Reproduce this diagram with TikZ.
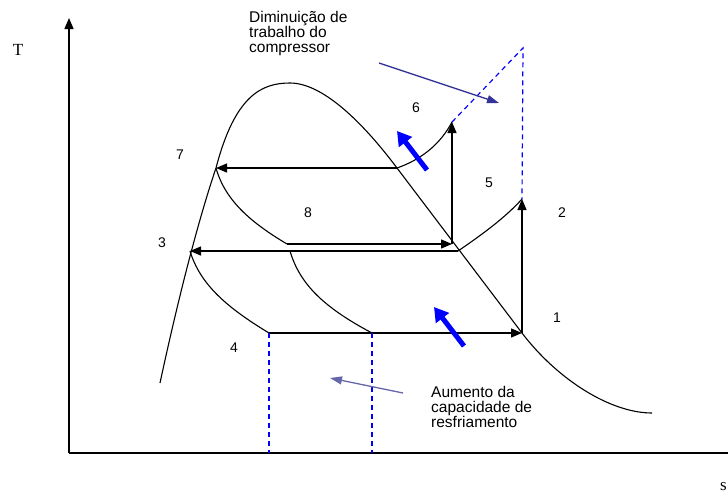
\documentclass[tikz,border=0pt]{standalone}
\usepackage{fontspec}
\setmainfont{Liberation Serif}
\newfontfamily\labfont{Liberation Sans}
\usetikzlibrary{arrows.meta}
\definecolor{navyarrow}{RGB}{51,51,153}
\definecolor{greyblue}{RGB}{102,102,170}
\definecolor{pureblue}{RGB}{0,0,255}
\tikzset{
  curve/.style={line width=1.1pt, black},
  flow/.style={line width=1.3pt, black, -{Triangle[length=11pt,width=9pt]}},
  axisline/.style={line width=1.5pt, black},
  bluedash/.style={line width=1.2pt, pureblue, dash pattern=on 5pt off 4pt},
  bigarrow/.style={line width=5pt, pureblue, -{Triangle[length=14pt,width=16pt]}},
  thinarrow/.style={line width=1.3pt, -{Triangle[length=12pt,width=8pt]}},
  num/.style={font=\labfont\fontsize{14}{16}\selectfont, inner sep=0pt},
  note/.style={font=\labfont\fontsize{15.5}{14.8}\selectfont, align=left, inner sep=0pt, anchor=north west},
  axlab/.style={font=\fontsize{17}{19}\selectfont, inner sep=0pt}
}
\begin{document}
\begin{tikzpicture}[x=1pt,y=-1pt]
\useasboundingbox (0,0) rectangle (728,493);
% axes
\coordinate (O) at (69,453);
\coordinate (Ytop) at (69,18);
\coordinate (Xend) at (730,453);
\draw[axisline, -{Triangle[length=11pt,width=9pt]}] (O) -- (Ytop);
\draw[axisline] (O) -- (Xend);
\node[axlab] (T) at (18,50) {T};
\node[axlab, anchor=south east] (S) at (727,491) {s};
% key points
\coordinate (c7) at (216,168);
\coordinate (c7r) at (397,168);
\coordinate (c3) at (190,251);
\coordinate (c3r) at (458,251);
\coordinate (c3m) at (290,251);
\coordinate (c8) at (287,244);
\coordinate (c5) at (452,244);
\coordinate (c6) at (452,122);
\coordinate (c2) at (522,199);
\coordinate (c1) at (522,333);
\coordinate (c4) at (269,333);
\coordinate (c4b) at (372,333);
\coordinate (ctop) at (523,48);
\coordinate (b4) at (269,453);
\coordinate (b4b) at (372,453);
\coordinate (apex) at (290,83);
\coordinate (dstart) at (160,383);
\coordinate (dend) at (652,413);
% saturation dome
\draw[curve] (dstart) .. controls (180,290) and (200,215) .. (c7)
  .. controls (235,95) and (262,83) .. (apex)
  .. controls (325,83) and (367,128) .. (c7r)
  -- (c1)
  .. controls (557,379) and (610,413) .. (dend);
% process curves
\draw[curve] (c7) .. controls (225,200) and (250,222) .. (c8);
\draw[curve] (c3) .. controls (200,284) and (226,307) .. (c4);
\draw[curve] (c3m) .. controls (300,285) and (325,308) .. (c4b);
\draw[curve] (c7r) .. controls (420,160) and (440,145) .. (c6);
\draw[curve] (c3r) .. controls (480,236) and (505,218) .. (c2);
% cycle arrows
\draw[flow] (c7r) -- (c7);
\draw[flow] (c3r) -- (c3);
\draw[flow] (c8) -- (c5);
\draw[flow] (c4) -- (c1);
\draw[flow] (c5) -- (c6);
\draw[flow] (c1) -- (c2);
% blue dashed lines
\draw[bluedash] (c6) -- (ctop) -- (c2);
\draw[bluedash] (c4) -- (b4);
\draw[bluedash] (c4b) -- (b4b);
% thick blue arrows
\coordinate (ba1s) at (427,170);
\coordinate (ba1e) at (397,131);
\coordinate (ba2s) at (464,346);
\coordinate (ba2e) at (434,307);
\draw[bigarrow] (ba1s) -- (ba1e);
\draw[bigarrow] (ba2s) -- (ba2e);
% annotation arrows
\coordinate (na1s) at (379,63);
\coordinate (na1e) at (499,103);
\coordinate (na2s) at (403,393);
\coordinate (na2e) at (330,378);
\draw[thinarrow, navyarrow] (na1s) -- (na1e);
\draw[thinarrow, greyblue] (na2s) -- (na2e);
% annotations
\node[note] (dim) at (249,11) {Diminuição de\\trabalho do\\compressor};
\node[note] (aum) at (431,386) {Aumento da\\capacidade de\\resfriamento};
% point numbers
\node[num] (n1) at (557,318) {1};
\node[num] (n2) at (562,213) {2};
\node[num] (n3) at (162,243) {3};
\node[num] (n4) at (234,348) {4};
\node[num] (n5) at (489,183) {5};
\node[num] (n6) at (416,108) {6};
\node[num] (n7) at (180,155) {7};
\node[num] (n8) at (308,213) {8};
\end{tikzpicture}
\end{document}
